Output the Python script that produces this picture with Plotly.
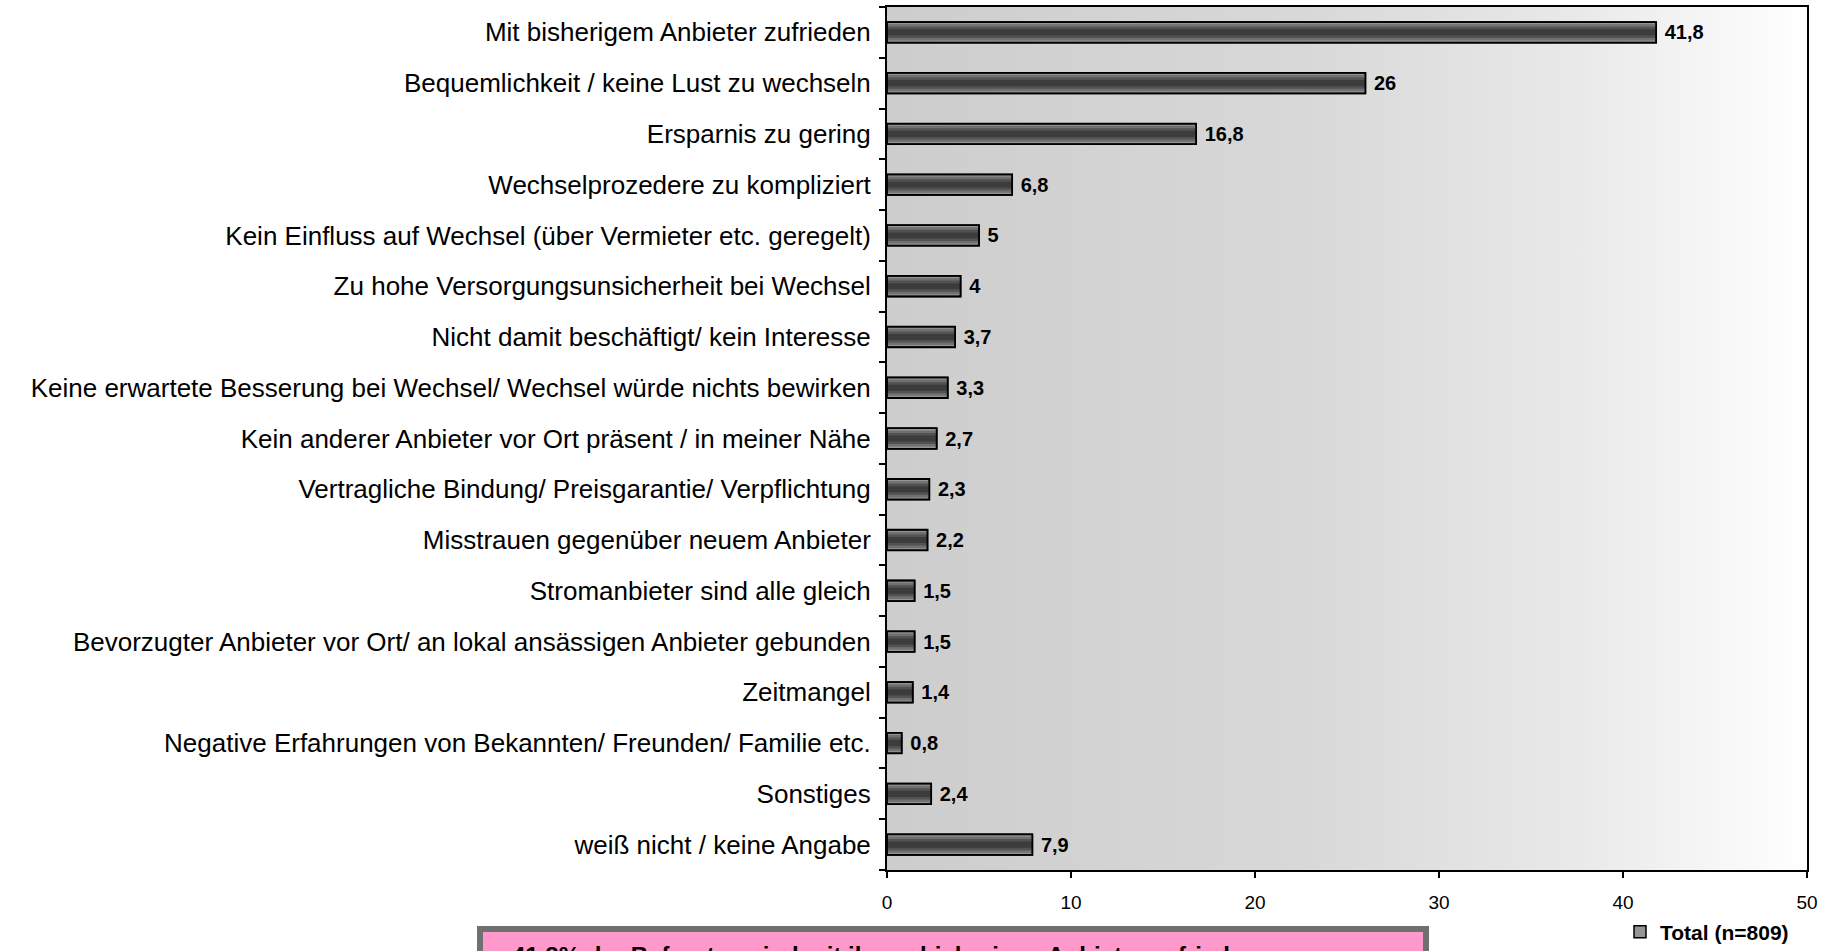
import plotly.graph_objects as go

categories = [
    "Mit bisherigem Anbieter zufrieden",
    "Bequemlichkeit / keine Lust zu wechseln",
    "Ersparnis zu gering",
    "Wechselprozedere zu kompliziert",
    "Kein Einfluss auf Wechsel (über Vermieter etc. geregelt)",
    "Zu hohe Versorgungsunsicherheit bei Wechsel",
    "Nicht damit beschäftigt/ kein Interesse",
    "Keine erwartete Besserung bei Wechsel/ Wechsel würde nichts bewirken",
    "Kein anderer Anbieter vor Ort präsent / in meiner Nähe",
    "Vertragliche Bindung/ Preisgarantie/ Verpflichtung",
    "Misstrauen gegenüber neuem Anbieter",
    "Stromanbieter sind alle gleich",
    "Bevorzugter Anbieter vor Ort/ an lokal ansässigen Anbieter gebunden",
    "Zeitmangel",
    "Negative Erfahrungen von Bekannten/ Freunden/ Familie etc.",
    "Sonstiges",
    "weiß nicht / keine Angabe",
]
values = [41.8, 26, 16.8, 6.8, 5, 4, 3.7, 3.3, 2.7, 2.3, 2.2, 1.5, 1.5, 1.4, 0.8, 2.4, 7.9]
x_ticks = [0, 10, 20, 30, 40, 50]
series_name = "Total (n=809)"
note_text = "41,8% der Befragten sind mit ihrem bisherigen Anbieter zufrieden"

positions = list(range(len(categories)))
labels = [("%g" % v).replace(".", ",") for v in values]

W, H = 1827, 951
ML, MR, MT, MB = 887, 20, 7, 81
PW, PH = W - ML - MR, H - MT - MB

def px_x(p):
    return (p - ML) / PW

def px_y(p):
    return (H - MB - p) / PH

FONT = "Liberation Sans, Arial"
fig = go.Figure()

x_lo, x_hi = x_ticks[0], x_ticks[-1]
y_lo, y_hi = -0.5, len(categories) - 0.5

# plot-area gradient background (base axes)
fig.add_trace(go.Scatter(
    x=[x_lo, x_hi, x_hi, x_lo, x_lo], y=[y_lo, y_lo, y_hi, y_hi, y_lo],
    mode="none", fill="toself",
    fillgradient=dict(type="horizontal",
                      colorscale=[[0, "#cdcdcd"], [0.45, "#d8d8d8"], [0.75, "#e9e9e9"], [1, "#ffffff"]]),
    hoverinfo="skip", showlegend=False,
))

# bars on overlaying axes so they sit above the background
layers = [(0.405, "#959595"), (0.32, "#707070"), (0.22, "#525252"), (0.12, "#3c3c3c")]
for i, (w, c) in enumerate(layers):
    fig.add_trace(go.Bar(
        x=values, y=positions, orientation="h", width=w, xaxis="x2", yaxis="y2",
        marker=dict(color=c, line=dict(width=1.5 if i == 0 else 0, color="black")),
        name=series_name, showlegend=(i == 0), hoverinfo="skip",
    ))
fig.add_trace(go.Bar(
    x=values, y=positions, orientation="h", width=0.405, xaxis="x2", yaxis="y2",
    marker=dict(color="rgba(0,0,0,0)", line=dict(width=1.8, color="black")),
    text=labels, texttemplate="\u00a0%{text}", textposition="outside", cliponaxis=False,
    constraintext="none",
    textfont=dict(family=FONT, size=20, color="black", weight="bold"),
    showlegend=False, hoverinfo="skip",
))

fig.update_layout(
    width=W, height=H, barmode="overlay",
    margin=dict(l=ML, r=MR, t=MT, b=MB, autoexpand=False),
    plot_bgcolor="white", paper_bgcolor="white",
    font=dict(family=FONT, color="black"),
    xaxis=dict(range=[x_lo, x_hi], tickvals=x_ticks, ticks="outside", ticklen=6,
               tickcolor="black", tickwidth=1.5, showgrid=False, zeroline=False,
               showline=True, linecolor="black", linewidth=2, mirror=True,
               tickfont=dict(size=19), ticklabelstandoff=8, automargin=False),
    yaxis=dict(range=[y_hi, y_lo], tickvals=positions, ticktext=categories, ticks="",
               showgrid=False, zeroline=False, showline=True, linecolor="black",
               linewidth=2, mirror=True, tickfont=dict(size=26), ticklabelstandoff=9,
               automargin=False,
               minor=dict(tickvals=[p + 0.5 for p in [-1] + positions], ticks="outside",
                          ticklen=6, tickcolor="black", tickwidth=1.5, showgrid=False)),
    xaxis2=dict(overlaying="x", range=[x_lo, x_hi], visible=False),
    yaxis2=dict(overlaying="y", range=[y_hi, y_lo], visible=False),
    legend=dict(x=px_x(1620), y=px_y(932), xanchor="left", yanchor="middle",
                font=dict(size=21, weight="bold"), bgcolor="rgba(0,0,0,0)",
                itemwidth=30, tracegroupgap=0),
    showlegend=True,
    shapes=[dict(type="rect", xref="paper", yref="paper",
                 x0=px_x(480), x1=px_x(1426), y0=px_y(1000), y1=px_y(929),
                 line=dict(color="#707070", width=6), fillcolor="#FF99CC", layer="above")],
    annotations=[dict(text="<b>" + note_text + "</b>", xref="paper", yref="paper",
                      x=px_x(510), y=px_y(940), xanchor="left", yanchor="top",
                      showarrow=False, font=dict(size=24, color="black"))],
)

fig.write_html("out.html", config={"displayModeBar": False},
               post_script="document.body.style.margin='0';document.body.style.overflow='hidden';")
